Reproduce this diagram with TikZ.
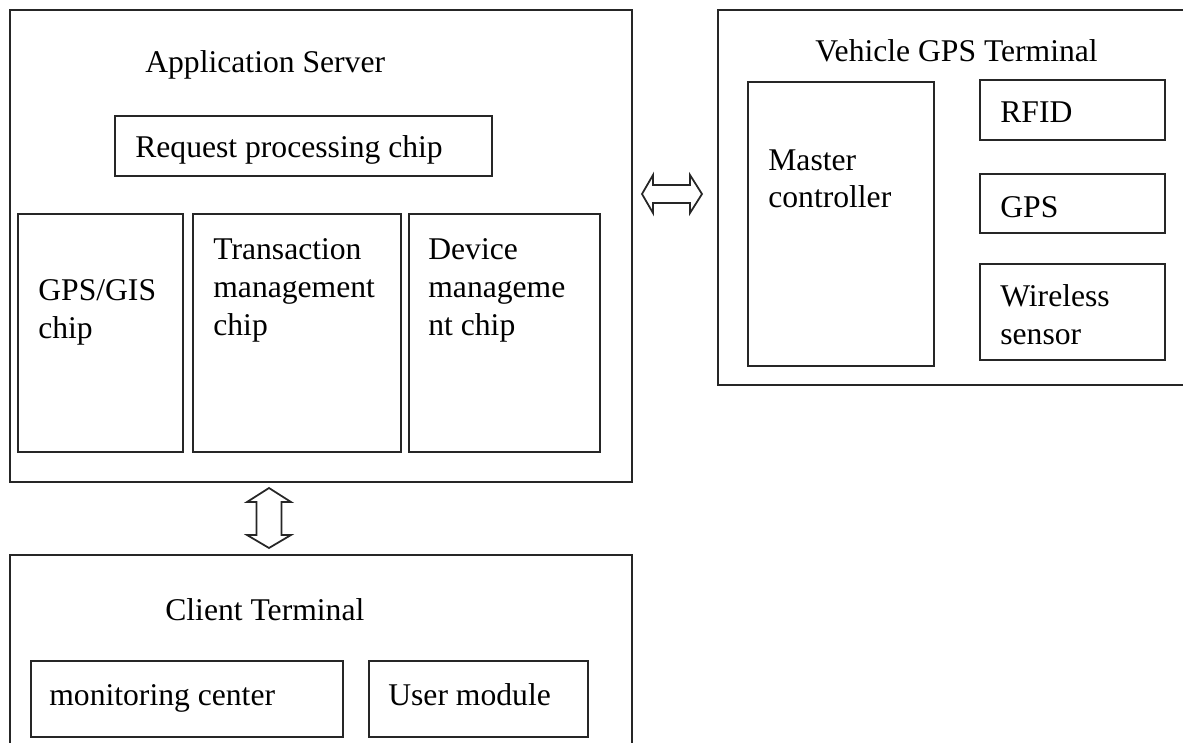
\documentclass[tikz,border=0pt]{standalone}
\usepackage{fontspec}
\setmainfont{Liberation Serif}
\usetikzlibrary{fit}

\begin{document}
\begin{tikzpicture}[
    x=0.02cm, y=-0.02cm,
    box/.style={draw=black!85, line width=1.1pt, inner sep=0pt},
    lbl/.style={anchor=base west, inner sep=0pt, align=left, font=\fontsize{18}{21.5}\selectfont},
    dbl/.style={draw=black!85, line width=1pt, fill=white, line join=miter},
]
\useasboundingbox (0,0) rectangle (1183,743);
\clip (0,0) rectangle (1183,743);

% Application server
\node[box, fit={(10,10) (632,482)}] (server) {};
\node[lbl] (servertitle) at (145,73) {Application Server};
\node[box, fit={(115,116) (492,176)}] (request) {};
\node[lbl] (requesttxt) at (135,158) {Request processing chip};
\node[box, fit={(18,214) (183,452)}] (gis) {};
\node[lbl] (gistxt) at (38,338) {GPS/GIS\\chip};
\node[box, fit={(193,214) (401,452)}] (trans) {};
\node[lbl] (transtxt) at (213,335) {Transaction\\management\\chip};
\node[box, fit={(409,214) (600,452)}] (device) {};
\node[lbl] (devicetxt) at (428,335) {Device\\manageme\\nt chip};

% Vehicle GPS terminal
\node[box, fit={(718,10) (1200,385)}] (vehicle) {};
\node[lbl] (vehicletitle) at (815,62) {Vehicle GPS Terminal};
\node[box, fit={(748,82) (934,366)}] (master) {};
\node[lbl] (mastertxt) at (768,208) {Master\\controller};
\node[box, fit={(980,80) (1165,140)}] (rfid) {};
\node[lbl] (rfidtxt) at (1000,123) {RFID};
\node[box, fit={(980,174) (1165,233)}] (gps) {};
\node[lbl] (gpstxt) at (1000,217) {GPS};
\node[box, fit={(980,264) (1165,360)}] (wireless) {};
\node[lbl] (wirelesstxt) at (1000,344) {Wireless\\sensor};

% Client terminal
\node[box, fit={(10,555) (632,790)}] (client) {};
\node[lbl] (clienttitle) at (165,620) {Client Terminal};
\node[box, fit={(31,661) (343,737)}] (monitor) {};
\node[lbl] (monitortxt) at (49,705) {monitoring center};
\node[box, fit={(369,661) (588,737)}] (usermod) {};
\node[lbl] (usertxt) at (388,705) {User module};

% Double arrows
\coordinate (hleft) at (642,194);
\coordinate (vtop) at (269,488);
\draw[dbl] (hleft) -- ++(11,-19) -- ++(0,10) -- ++(37,0) -- ++(0,-10)
    -- ++(12,19) -- ++(-12,19) -- ++(0,-10) -- ++(-37,0) -- ++(0,10) -- cycle;
\draw[dbl] (vtop) -- ++(22,14) -- ++(-9.5,0) -- ++(0,33) -- ++(9.5,0)
    -- ++(-22,13) -- ++(-22,-13) -- ++(9.5,0) -- ++(0,-33) -- ++(-9.5,0) -- cycle;

\end{tikzpicture}
\end{document}
